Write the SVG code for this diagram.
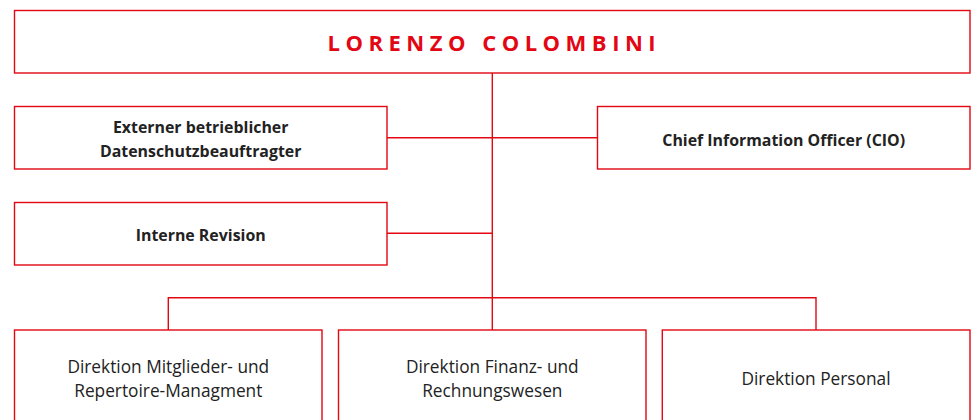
<svg xmlns="http://www.w3.org/2000/svg" width="976" height="420" viewBox="0 0 976 420">
<style>
.box{fill:#fff;stroke:#e30613;stroke-width:1.4}
.con{fill:none;stroke:#e30613;stroke-width:1.4}
.b{font-family:"Open Sans","Noto Sans",sans-serif;font-weight:bold;font-size:15.9px;fill:#222;text-anchor:middle}
.r{font-family:"Open Sans","Noto Sans",sans-serif;font-size:17.3px;fill:#222;text-anchor:middle}
.t{font-family:"Open Sans","Noto Sans",sans-serif;font-weight:bold;font-size:22px;fill:#e30613;text-anchor:middle;letter-spacing:5.5px}
</style>
<rect width="976" height="420" fill="#fff"/>
<g id="connectors">
<path class="con" d="M492.3 73 V330"/>
<path class="con" d="M387 137.7 H597.5"/>
<path class="con" d="M387 233.3 H492.3"/>
<path class="con" d="M168.3 330 V297.7 H816 V330"/>
</g>
<g id="node-ceo">
<rect class="box" x="14.5" y="10.5" width="955.5" height="62.5"/>
<text class="t" x="494.3" y="51">LORENZO COLOMBINI</text>
</g>
<g id="node-dsb">
<rect class="box" x="14.5" y="106.5" width="372.5" height="62.5"/>
<text class="b" x="200.7" y="132.7">Externer betrieblicher</text>
<text class="b" x="200.7" y="156.7">Datenschutzbeauftragter</text>
</g>
<g id="node-cio">
<rect class="box" x="597.5" y="106.5" width="372.5" height="62.5"/>
<text class="b" x="783.7" y="145.5">Chief Information Officer (CIO)</text>
</g>
<g id="node-revision">
<rect class="box" x="14.5" y="202.5" width="372.5" height="62.5"/>
<text class="b" x="200.7" y="241">Interne Revision</text>
</g>
<g id="node-mitglieder">
<rect class="box" x="14.5" y="330" width="307.5" height="100"/>
<text class="r" x="168.3" y="373.3">Direktion Mitglieder- und</text>
<text class="r" x="168.3" y="396.7">Repertoire-Managment</text>
</g>
<g id="node-finanz">
<rect class="box" x="338.5" y="330" width="307.5" height="100"/>
<text class="r" x="492.3" y="373.3">Direktion Finanz- und</text>
<text class="r" x="492.3" y="396.7">Rechnungswesen</text>
</g>
<g id="node-personal">
<rect class="box" x="662.3" y="330" width="307.7" height="100"/>
<text class="r" x="816" y="385">Direktion Personal</text>
</g>
</svg>
